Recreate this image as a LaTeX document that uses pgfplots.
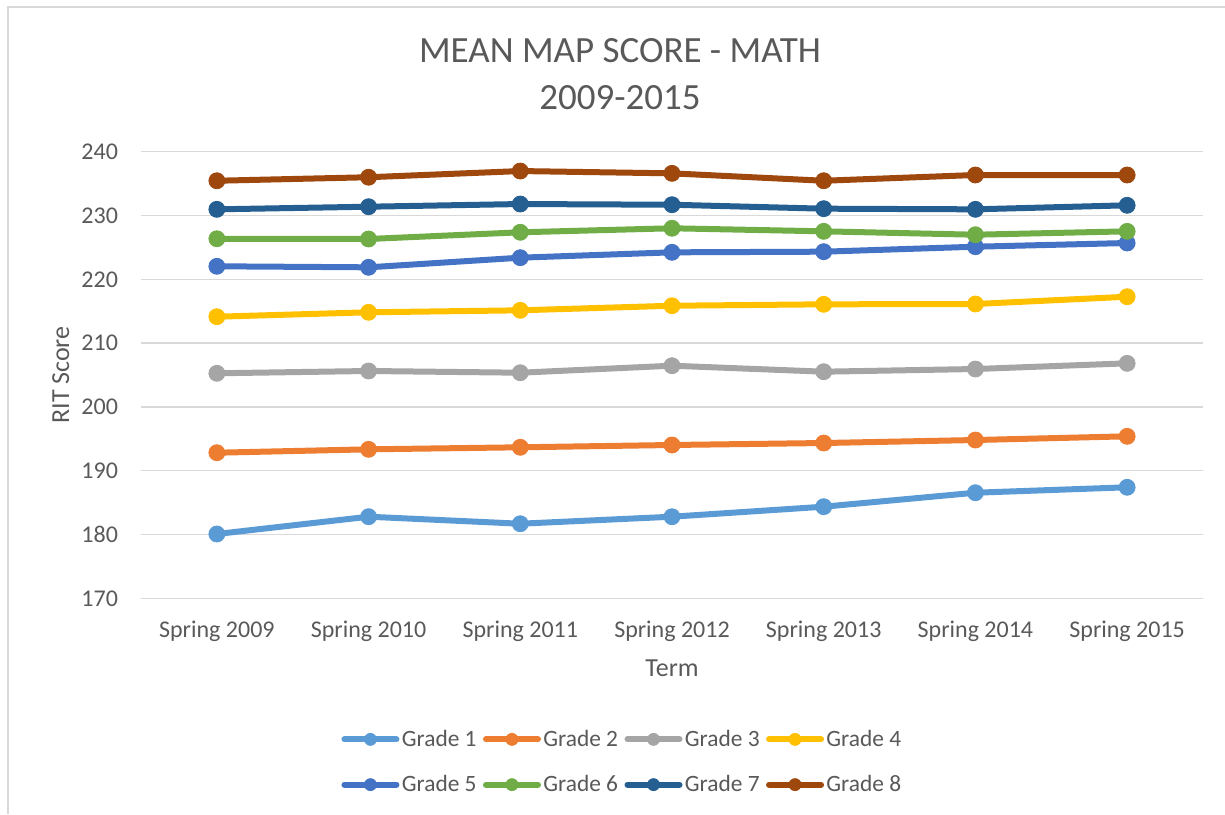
\documentclass[border=0pt]{standalone}
\usepackage{fontspec}
\setmainfont{Carlito}
\usepackage{pgfplots}
\pgfplotsset{compat=1.18}
\definecolor{txt}{HTML}{595959}
\definecolor{gridc}{HTML}{D9D9D9}
\definecolor{gA}{HTML}{5B9BD5}
\definecolor{gB}{HTML}{ED7D31}
\definecolor{gC}{HTML}{A5A5A5}
\definecolor{gD}{HTML}{FFC000}
\definecolor{gE}{HTML}{4472C4}
\definecolor{gF}{HTML}{70AD47}
\definecolor{gG}{HTML}{255E91}
\definecolor{gH}{HTML}{9E480E}
\begin{document}
\begin{tikzpicture}[x=1pt,y=1pt]
\useasboundingbox (0,0) rectangle (612.5,407);
\draw[gridc, line width=0.75pt] (4,0) -- (4,403.5) -- (612.5,403.5);
\node[anchor=base, font=\fontsize{18.5}{21}\selectfont, text=txt, inner sep=0pt] at (310,375.5) {MEAN MAP SCORE - MATH};
\node[anchor=base, font=\fontsize{18.5}{21}\selectfont, text=txt, inner sep=0pt] at (310,352) {2009-2015};
\begin{axis}[
  at={(70.5pt,107.85pt)}, anchor=south west,
  width=531pt, height=223.3pt, scale only axis,
  xmin=-0.5, xmax=6.5, ymin=170, ymax=240,
  ytick={170,180,...,240},
  xtick={0,1,2,3,4,5,6},
  xticklabels={Spring 2009,Spring 2010,Spring 2011,Spring 2012,Spring 2013,Spring 2014,Spring 2015},
  ymajorgrids, grid style={gridc, line width=0.75pt},
  axis line style={draw=none}, major tick length=0pt,
  tick label style={text=txt, font=\fontsize{12}{14}\selectfont},
  /pgf/number format/assume math mode=true,
  xticklabel style={yshift=-7.7pt},
  yticklabel style={xshift=-8pt},
  xlabel={Term}, ylabel={RIT Score},
  label style={text=txt, font=\fontsize{13}{15}\selectfont},
  xlabel style={at={(axis description cs:0.5,-0.174)}, anchor=base},
  ylabel style={at={(axis description cs:-0.0678,0.5)}, anchor=base},
  clip=false,
  every axis plot/.append style={line width=3pt, mark=*, mark size=4pt, mark options={line width=0.4pt}},
  legend image code/.code={\draw[mark repeat=2,mark phase=2,#1,mark size=3pt,line cap=round] plot coordinates {(0pt,0pt) (13pt,0pt) (26pt,0pt)};},
  legend columns=4,
  legend style={draw=none, at={(0.4534,-0.3666)}, anchor=center,
    font=\fontsize{11.7}{13}\selectfont, text=txt,
    nodes={inner xsep=1.2pt},
    /tikz/every even column/.append style={column sep=2pt},
    row sep=9pt},
]
\addplot[color=gA] coordinates {(0,180.08) (1,182.79) (2,181.69) (3,182.79) (4,184.36) (5,186.55) (6,187.40)};
\addlegendentry{Grade 1}
\addplot[color=gB] coordinates {(0,192.82) (1,193.35) (2,193.67) (3,194.03) (4,194.34) (5,194.81) (6,195.39)};
\addlegendentry{Grade 2}
\addplot[color=gC] coordinates {(0,205.27) (1,205.63) (2,205.36) (3,206.46) (4,205.52) (5,205.94) (6,206.83)};
\addlegendentry{Grade 3}
\addplot[color=gD] coordinates {(0,214.14) (1,214.83) (2,215.14) (3,215.86) (4,216.08) (5,216.13) (6,217.27)};
\addlegendentry{Grade 4}
\addplot[color=gE] coordinates {(0,222.04) (1,221.88) (2,223.39) (3,224.23) (4,224.33) (5,225.11) (6,225.69)};
\addlegendentry{Grade 5}
\addplot[color=gF] coordinates {(0,226.36) (1,226.32) (2,227.37) (3,228.00) (4,227.52) (5,226.99) (6,227.52)};
\addlegendentry{Grade 6}
\addplot[color=gG] coordinates {(0,230.97) (1,231.38) (2,231.80) (3,231.69) (4,231.07) (5,230.97) (6,231.60)};
\addlegendentry{Grade 7}
\addplot[color=gH] coordinates {(0,235.45) (1,236.00) (2,236.97) (3,236.61) (4,235.45) (5,236.35) (6,236.35)};
\addlegendentry{Grade 8}
\end{axis}
\end{tikzpicture}
\end{document}
